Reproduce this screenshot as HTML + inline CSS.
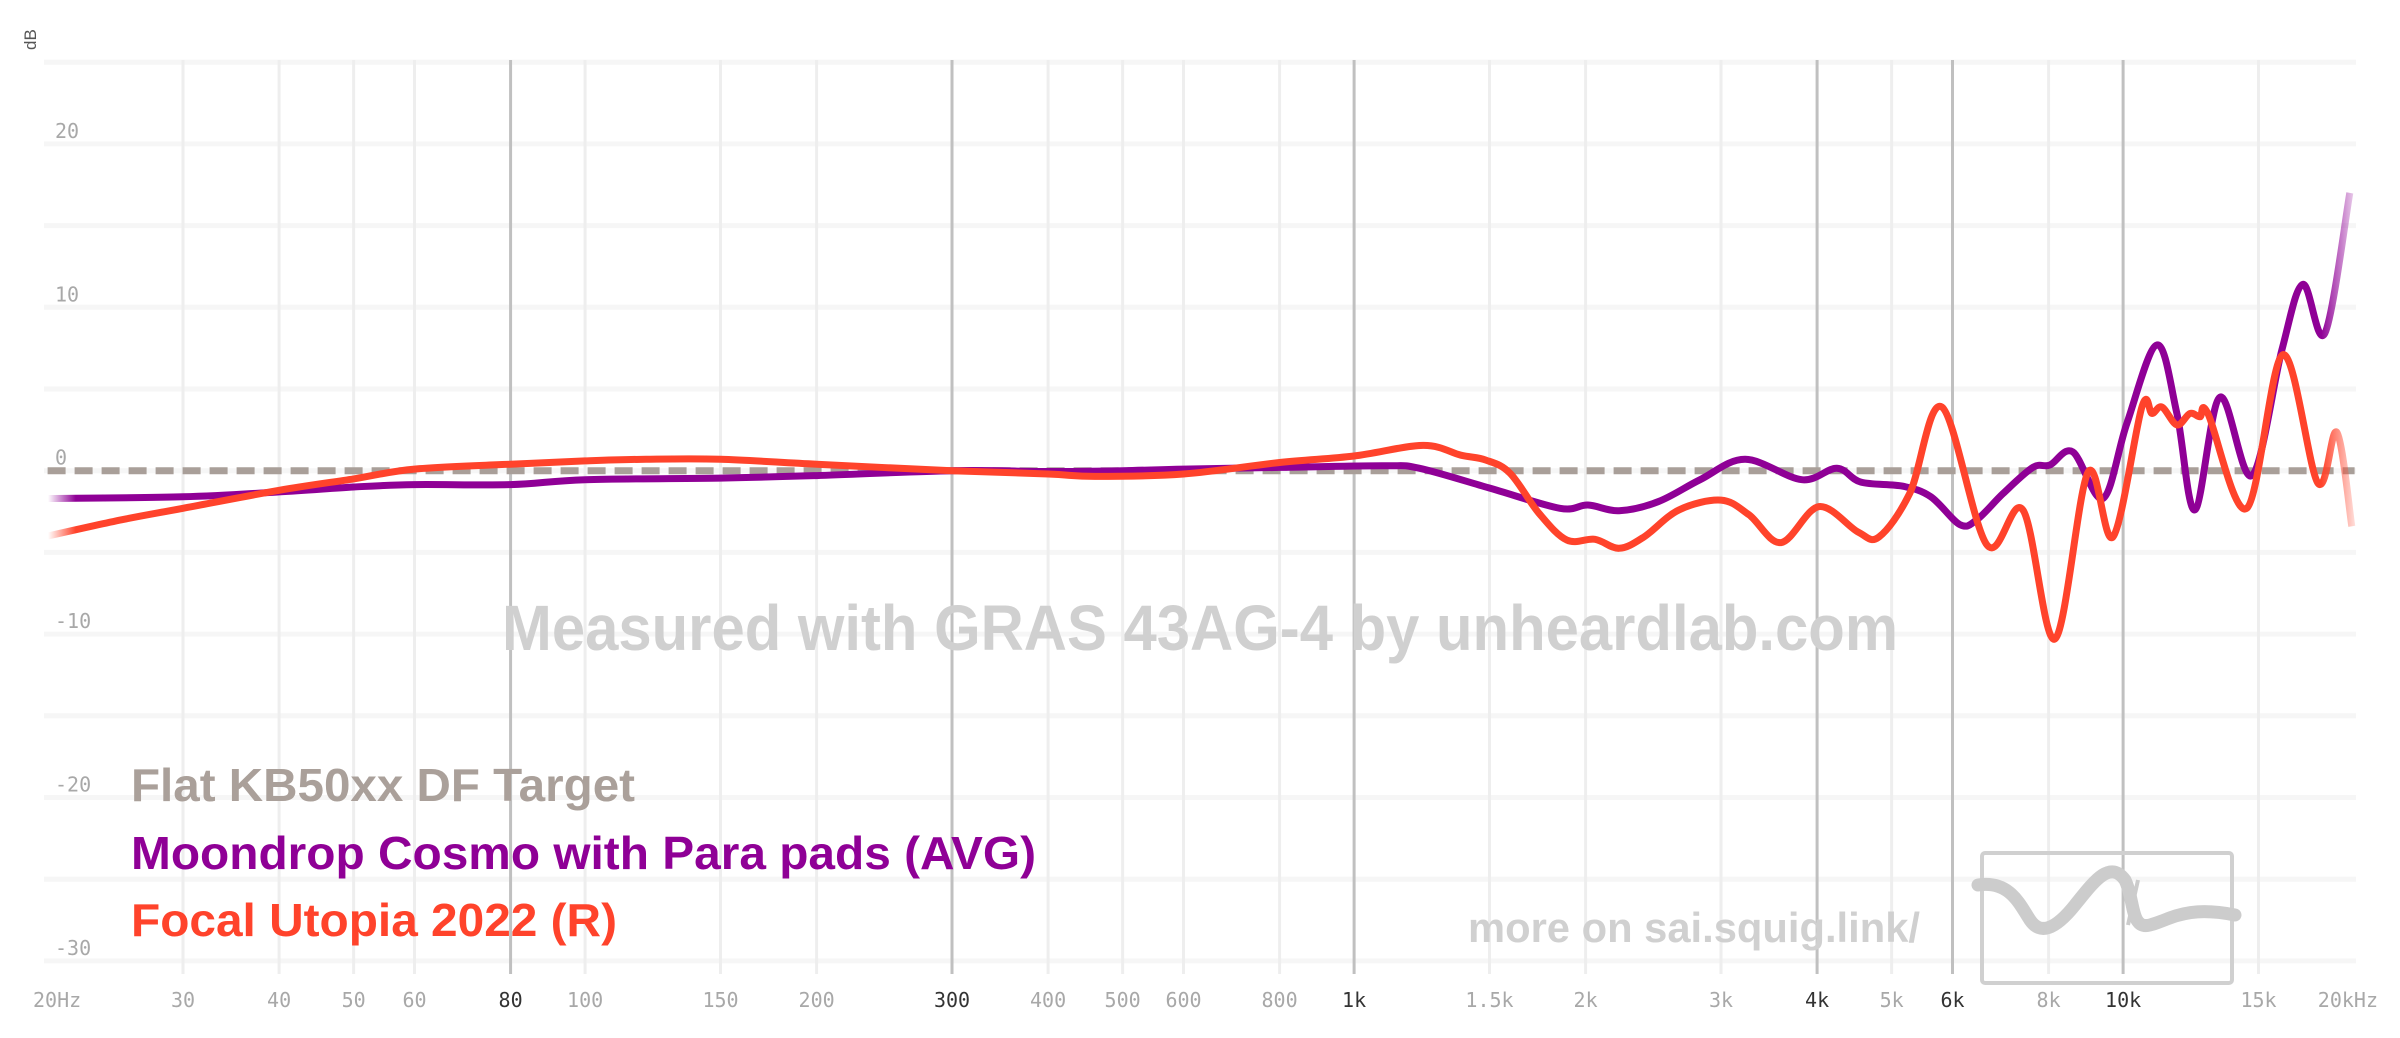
<!DOCTYPE html>
<html><head><meta charset="utf-8"><style>
html,body{margin:0;padding:0;background:#fff;}
svg{display:block;}
.tick{font-family:"DejaVu Sans Mono","Liberation Mono",monospace;font-size:20px;fill:#a8a8a8;}
.tick.dark{fill:#333;}
</style></head><body>
<svg id="chart" width="2400" height="1038" viewBox="0 0 2400 1038" xmlns="http://www.w3.org/2000/svg">
<defs>
<linearGradient id="gP" gradientUnits="userSpaceOnUse" x1="48" y1="0" x2="2356" y2="0">
<stop offset="0" stop-color="#8f0096" stop-opacity="0"/><stop offset="0.012" stop-color="#8f0096" stop-opacity="1"/>
<stop offset="0.985" stop-color="#8f0096" stop-opacity="1"/><stop offset="1" stop-color="#8f0096" stop-opacity="0.15"/></linearGradient>
<linearGradient id="gR" gradientUnits="userSpaceOnUse" x1="48" y1="0" x2="2356" y2="0">
<stop offset="0" stop-color="#ff432b" stop-opacity="0"/><stop offset="0.012" stop-color="#ff432b" stop-opacity="1"/>
<stop offset="0.985" stop-color="#ff432b" stop-opacity="1"/><stop offset="1" stop-color="#ff432b" stop-opacity="0.15"/></linearGradient>
</defs>
<g id="grid"></g>
<text transform="translate(36,50) rotate(-90)" font-family="Liberation Sans, sans-serif" font-size="17" fill="#555">dB</text>
<g id="yticks"></g>
<g id="xticks"></g>
<text x="502" y="650" font-family="Liberation Sans, sans-serif" font-weight="bold" font-size="64" fill="#d0d0d0" textLength="1396" lengthAdjust="spacingAndGlyphs">Measured with GRAS 43AG-4 by unheardlab.com</text>
<text x="1468" y="942" font-family="Liberation Sans, sans-serif" font-weight="bold" font-size="42" fill="#d0d0d0" textLength="452" lengthAdjust="spacingAndGlyphs">more on sai.squig.link/</text>
<g>
<rect x="1982" y="853" width="250" height="130" fill="none" stroke="#d0d0d0" stroke-width="4" rx="3"/>
<path d="M1978,885 C2010,880 2020,905 2030,920 C2040,935 2055,930 2075,905 C2095,880 2110,860 2125,880 C2135,900 2130,930 2150,925 C2170,920 2185,905 2235,915" fill="none" stroke="#cccccc" stroke-width="13" stroke-linecap="round"/>
<path d="M2138,880 L2128,925" stroke="#cccccc" stroke-width="4"/>
</g>
<g id="series"></g>
<g font-family="Liberation Sans, sans-serif" font-weight="bold" font-size="46">
<text x="131" y="801" fill="#aaa09a" textLength="504" lengthAdjust="spacingAndGlyphs">Flat KB50xx DF Target</text>
<text x="131" y="869" fill="#8f0096" textLength="905" lengthAdjust="spacingAndGlyphs">Moondrop Cosmo with Para pads (AVG)</text>
<text x="131" y="936" fill="#ff432b" textLength="486" lengthAdjust="spacingAndGlyphs">Focal Utopia 2022 (R)</text>
</g>
</svg>
<script>
const xTickFreqs=[20,30,40,50,60,80,100,150,200,300,400,500,600,800,1000,1500,2000,3000,4000,5000,6000,8000,10000,15000,20000];
const xTickLabels=["20Hz","30","40","50","60","80","100","150","200","300","400","500","600","800","1k","1.5k","2k","3k","4k","5k","6k","8k","10k","15k","20kHz"];
const xMajor=[80,300,1000,4000,6000,10000];
const yTicks=[20,10,0,-10,-20,-30];
const yGrid=[25,20,15,10,5,0,-5,-10,-15,-20,-25,-30];
const targetFreqs=[20,20000];
const targetDb=[0,0];
const cosmoFreqs=[20,30,40,50,60,80,100,150,200,300,400,500,600,800,1094,1215,1497,1852,2014,2211,2485,2818,3224,3822,4245,4561,5172,5624,6135,6455,6979,7633,8032,8603,9413,10113,11067,11749,12398,13361,14702,16086,17128,18294,19716];
const cosmoDb=[-1.7,-1.6,-1.3,-1.0,-0.85,-0.85,-0.55,-0.45,-0.3,0,-0.05,0,0.1,0.2,0.3,0.15,-1.05,-2.3,-2.1,-2.45,-1.9,-0.55,0.7,-0.55,0.15,-0.7,-0.95,-1.6,-3.3,-3.0,-1.4,0.2,0.35,1.15,-1.7,2.9,7.7,3.5,-2.4,4.5,-0.3,7.4,11.4,8.4,17];
const utopiaFreqs=[20,25,30,40,50,60,80,100,120,150,200,300,400,460,600,800,1000,1229,1377,1484,1595,1739,1891,2057,2211,2382,2645,2999,3262,3591,4022,4521,4815,5283,5812,6653,7407,8153,9002,9701,10580,10902,11233,11749,12215,12587,12892,14484,16135,17915,18964,19833];
const utopiaDb=[-4.0,-3.0,-2.3,-1.2,-0.5,0.1,0.4,0.6,0.7,0.7,0.4,0,-0.2,-0.35,-0.2,0.5,0.9,1.55,0.95,0.65,-0.15,-2.6,-4.25,-4.2,-4.75,-4.05,-2.4,-1.8,-2.7,-4.4,-2.2,-3.75,-4.05,-1.35,3.9,-4.55,-2.4,-10.3,-0.1,-4.05,3.9,3.5,3.9,2.8,3.5,3.3,3.5,-2.3,7.1,-0.75,2.35,-3.4];

const NS='http://www.w3.org/2000/svg';
const X0=47.6,PPD=769,Y0=470.7,PPDB=16.34,XL=44,XR=2356;
function xs(f){return X0+PPD*Math.log10(f/20);}
function ys(d){return Y0-PPDB*d;}
function mk(tag,attrs,parent){const e=document.createElementNS(NS,tag);for(const k in attrs)e.setAttribute(k,attrs[k]);parent.appendChild(e);return e;}
const grid=document.getElementById('grid');
yGrid.forEach(d=>{
  const l=mk('line',{x1:XL,x2:XR,y1:ys(d),y2:ys(d),stroke:'#f6f6f6','stroke-width':5},grid);
  
  
});
xTickFreqs.forEach(f=>{
  if(f===20||f===20000)return;
  const maj=xMajor.includes(f);
  const l=mk('line',{x1:xs(f),x2:xs(f),y1:60,y2:974,stroke:maj?'#c0c0c0':'#eeeeee','stroke-width':3},grid);
  
  
});
const yt=document.getElementById('yticks');
yTicks.forEach(d=>{
  const t=mk('text',{x:55,y:ys(d)-6,class:'tick'},yt);
  t.textContent=String(d);
  
  
});
const xt=document.getElementById('xticks');
xTickFreqs.forEach((f,i)=>{
  let x=xs(f),anchor='middle';
  if(i===0){x=33;anchor='start';}
  if(i===xTickFreqs.length-1){x=2378;anchor='end';}
  const t=mk('text',{x:x,y:1007,'text-anchor':anchor,class:'tick'+(xMajor.includes(f)?' dark':'')},xt);
  t.textContent=xTickLabels[i];
  
  
});
function smoothPath(fr,db){
  const p=fr.map((f,i)=>[xs(f),ys(db[i])]);
  let d='M'+p[0][0].toFixed(1)+','+p[0][1].toFixed(1);
  for(let i=0;i<p.length-1;i++){
    const a=p[Math.max(0,i-1)],b=p[i],c=p[i+1],e=p[Math.min(p.length-1,i+2)];
    const t=0.5/3;
    const c1=[b[0]+(c[0]-a[0])*t,b[1]+(c[1]-a[1])*t];
    const c2=[c[0]-(e[0]-b[0])*t,c[1]-(e[1]-b[1])*t];
    d+='C'+c1[0].toFixed(1)+','+c1[1].toFixed(1)+' '+c2[0].toFixed(1)+','+c2[1].toFixed(1)+' '+c[0].toFixed(1)+','+c[1].toFixed(1);
  }
  return d;
}
const sl=document.getElementById('series');
const tg=mk('path',{d:'M'+xs(targetFreqs[0])+','+ys(targetDb[0])+'L'+xs(targetFreqs[1])+','+ys(targetDb[1]),stroke:'#a99f99','stroke-width':7,'stroke-dasharray':'18 9',fill:'none'},sl);


const pc=mk('path',{d:smoothPath(cosmoFreqs,cosmoDb),stroke:'url(#gP)','stroke-width':7,fill:'none','stroke-linejoin':'round'},sl);


const pu=mk('path',{d:smoothPath(utopiaFreqs,utopiaDb),stroke:'url(#gR)','stroke-width':7,fill:'none','stroke-linejoin':'round'},sl);


</script>
</body></html>
